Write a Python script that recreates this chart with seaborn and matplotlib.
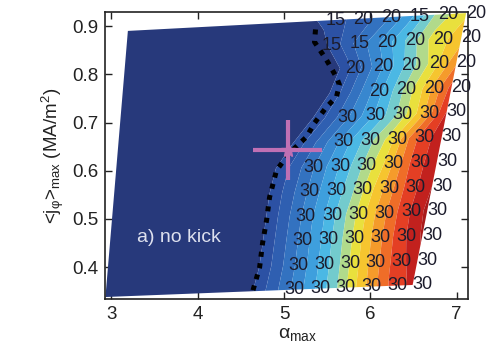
import numpy as np
import matplotlib
matplotlib.use("Agg")
import matplotlib.pyplot as plt
import seaborn as sns
from matplotlib.colors import ListedColormap, BoundaryNorm, LinearSegmentedColormap

# ---------------- data ----------------
# corners of the scanned region (alpha_max, <j_phi>_max): BL, BR, TL, TR
corner_alpha = [2.93, 6.49, 3.19, 7.11]
corner_j = [0.338, 0.363, 0.89, 0.927]

# normalised field on the 12 x 13 scan grid (rows bottom -> top)
z_rows = [
    [-0.5, -0.5, -0.5, -0.5, -0.5, -0.11, 0.035, 0.18, 0.325, 0.489, 0.683, 0.852, 0.95],
    [-0.5, -0.5, -0.5, -0.5, -0.5, -0.136, 0.019, 0.174, 0.329, 0.50, 0.696, 0.864, 0.98],
    [-0.5, -0.5, -0.5, -0.5, -0.5, -0.14, 0.019, 0.178, 0.337, 0.511, 0.708, 0.878, 1.01],
    [-0.5, -0.5, -0.5, -0.5, -0.5, -0.14, 0.02, 0.18, 0.34, 0.515, 0.71, 0.88, 1.02],
    [-0.5, -0.5, -0.5, -0.5, -0.5, -0.13, 0.018, 0.17, 0.321, 0.489, 0.683, 0.867, 1.0],
    [-0.5, -0.5, -0.5, -0.5, -0.5, -0.15, 0.003, 0.152, 0.303, 0.46, 0.64, 0.858, 0.99],
    [-0.5, -0.5, -0.5, -0.5, -0.5, -0.25, -0.08, 0.087, 0.253, 0.42, 0.587, 0.842, 0.98],
    [-0.5, -0.5, -0.5, -0.5, -0.5, -0.33, -0.17, -0.013, 0.146, 0.305, 0.467, 0.663, 0.93],
    [-0.5, -0.5, -0.5, -0.5, -0.5, -0.47, -0.29, -0.104, 0.081, 0.267, 0.452, 0.655, 0.88],
    [-0.5, -0.5, -0.5, -0.5, -0.5, -0.52, -0.33, -0.148, 0.037, 0.222, 0.407, 0.575, 0.77],
    [-0.5, -0.5, -0.5, -0.5, -0.5, -0.33, -0.18, -0.03, 0.121, 0.273, 0.43, 0.60, 0.68],
    [-0.5, -0.5, -0.5, -0.5, -0.5, -0.12, -0.05, 0.019, 0.089, 0.167, 0.33, 0.52, 0.63],
]

# numbers printed at grid points, columns 7..12 (rows bottom -> top)
label_first_col = 7
label_rows = [
    ["30", "30", "30", "30", "30", "30"],
    ["30", "30", "30", "30", "30", "30"],
    ["30", "30", "30", "30", "30", "30"],
    ["30", "30", "30", "30", "30", "30"],
    ["30", "30", "30", "30", "30", "30"],
    ["30", "30", "30", "30", "30", "30"],
    ["", "30", "30", "30", "30", "30"],
    ["", "30", "30", "30", "30", "30"],
    ["", "", "20", "20", "20", "20"],
    ["", "20", "20", "20", "20", "20"],
    ["15", "15", "20", "20", "20", "20"],
    ["15", "20", "20", "15", "20", "20"],
]

# dotted boundary curve
boundary_alpha = [4.64, 4.717, 4.751, 4.798, 4.832, 4.913, 5.064, 5.26, 5.353,
                  5.491, 5.607, 5.642, 5.607, 5.491, 5.353, 5.37]
boundary_j = [0.352, 0.40, 0.45, 0.498, 0.545, 0.601, 0.637, 0.67, 0.699,
              0.732, 0.753, 0.778, 0.794, 0.83, 0.867, 0.905]

# marked operating point with its ranges
point_alpha, point_j = 5.04, 0.643
point_dalpha, point_dj = 0.40, 0.062

x_ticks = [3, 4, 5, 6, 7]
y_ticks = [0.4, 0.5, 0.6, 0.7, 0.8, 0.9]

# ---------------- style ----------------
sns.set_style("ticks")
plt.rcParams['font.family'] = ['Liberation Sans', 'DejaVu Sans']
plt.rcParams['mathtext.fontset'] = 'custom'
plt.rcParams['mathtext.rm'] = 'Liberation Sans'
plt.rcParams['mathtext.it'] = 'Liberation Sans'
plt.rcParams['mathtext.bf'] = 'Liberation Sans:bold'

fig = plt.figure(figsize=(4.93, 3.46), dpi=100)
ax = fig.add_axes([0.213, 0.136, 0.736, 0.829])

Z = np.array(z_rows)
nr, nc = Z.shape
u = np.linspace(0, 1, nc)
v = np.linspace(0, 1, nr)
U, V = np.meshgrid(u, v)
bl, br, tl, tr = [np.array(p) for p in zip(corner_alpha, corner_j)]
X = bl[0] * (1 - U) * (1 - V) + br[0] * U * (1 - V) + tl[0] * (1 - U) * V + tr[0] * U * V
Y = bl[1] * (1 - U) * (1 - V) + br[1] * U * (1 - V) + tl[1] * (1 - U) * V + tr[1] * U * V

anchor = LinearSegmentedColormap.from_list("jetlike", [
    (0.00, "#2b4a9e"), (0.12, "#2f62b4"), (0.25, "#3887cf"), (0.35, "#40a8e2"),
    (0.42, "#52c2e6"), (0.50, "#8fd3b8"), (0.57, "#cfe064"), (0.62, "#f2e030"),
    (0.70, "#f8bb2e"), (0.78, "#f38a2a"), (0.86, "#ec5526"), (0.93, "#dc2722"),
    (1.00, "#a81a1a")])
inner = np.linspace(0, 1.0, 15)
levels = np.concatenate([[-1.0], inner, [1.3]])
mids = (inner[:-1] + inner[1:]) / 2
colors = ["#27397b"] + [anchor(m) for m in mids] + [anchor(1.0)]
cmap = ListedColormap(colors)
norm = BoundaryNorm(levels, cmap.N)
ax.contourf(X, Y, Z, levels=levels, cmap=cmap, norm=norm, antialiased=True)

for j, row in enumerate(label_rows):
    for k, s in enumerate(row):
        if not s:
            continue
        i = label_first_col + k
        ax.text(X[j, i], Y[j, i], s, ha='left', va='center', fontsize=13,
                color='#1c1c2c', clip_on=False)

sns.lineplot(x=boundary_alpha, y=boundary_j, sort=False, estimator=None, ax=ax,
             color='black', linewidth=3.6, linestyle=(0, (1, 1.3)))

ax.errorbar([point_alpha], [point_j], xerr=[point_dalpha], yerr=[point_dj],
            fmt='*', color='#c070b4', ecolor='#c070b4', elinewidth=3, markersize=11,
            capsize=0, zorder=5)

ax.text(3.3, 0.462, "a) no kick", color='#dde0ee', fontsize=14, ha='left', va='center')

ax.set_xlim(2.925, 7.13)
ax.set_ylim(0.334, 0.929)
ax.set_xticks(x_ticks)
ax.set_yticks(y_ticks)
ax.set_xticklabels([str(t) for t in x_ticks])
ax.set_yticklabels([f"{t:.1f}" for t in y_ticks])
ax.tick_params(direction='in', length=5, width=1, top=True, right=True,
               labelsize=13.5, colors='#222222', pad=5)
for sp in ax.spines.values():
    sp.set_visible(True)
    sp.set_linewidth(1.2)
    sp.set_color('#222222')

ax.set_xlabel(r'$\mathregular{α_{max}}$', fontsize=14, color='#222222', labelpad=1)
ax.set_ylabel(r'<j$\mathregular{_φ}$>$\mathregular{_{max}}$ (MA/m$\mathregular{^2}$)',
              fontsize=13.5, color='#222222', labelpad=4)
ax.xaxis.set_label_coords(0.53, -0.095)

fig.savefig("out.png", dpi=100)
